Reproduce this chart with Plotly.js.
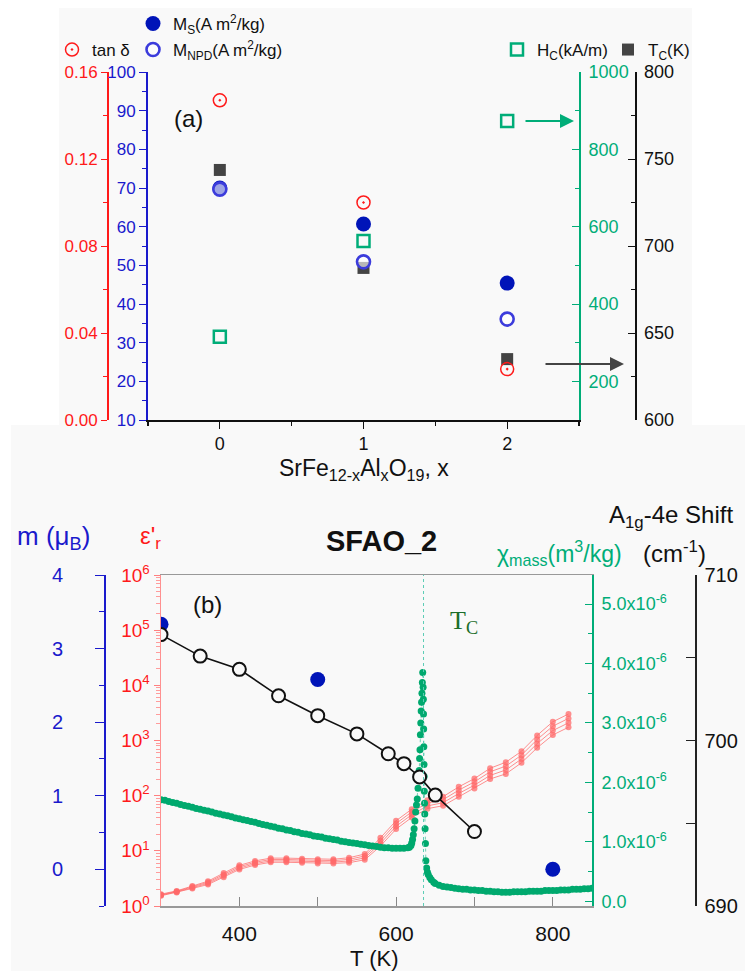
<!DOCTYPE html>
<html>
<head>
<meta charset="utf-8">
<script src="https://cdn.plot.ly/plotly-3.0.1.min.js"></script>
<style>
  html, body { margin: 0; padding: 0; background: #ffffff; }
  #chart { width: 745px; height: 971px; }
</style>
</head>
<body>
<div id="chart"></div>
<script>
// ---------- Panel (a): SrFe(12-x)AlxO19 properties vs Al content ----------
const alContent = [0, 1, 2];
const tanDelta  = [0.147, 0.100, 0.0234];
const msValues  = [70.0, 60.7, 45.4];      // A m^2/kg
const mNpd      = [69.7, 50.9, 36.1];      // A m^2/kg
const hcValues  = [315, 563, 873];         // kA/m
const tcValues  = [743.7, 687.4, 635.0];   // K

// ---------- Panel (b): SFAO_2 vs temperature ----------
// Raman A1g-4e mode shift (cm^-1)
const ramanT     = [300, 350, 400, 450, 500, 550, 590, 610, 630, 650, 700];
const ramanShift = [706.4, 705.1, 704.3, 702.7, 701.5, 700.4, 699.2, 698.6, 697.8, 696.7, 694.5];

// magnetic moment from neutron diffraction (mu_B)
const momentT = [300, 500, 800];
const moment  = [3.33, 2.58, 0.0];

// relative permittivity, four measuring frequencies
const epsT = [300, 320, 340, 360, 380, 400, 420, 440, 460, 480, 500, 520, 540, 560,
              580, 600, 620, 640, 660, 680, 700, 720, 740, 760, 780, 800, 820];
const eps1 = [1.64, 1.88, 2.30, 2.82, 3.96, 5.46, 6.57, 7.37, 7.37, 7.20, 7.04, 7.04, 7.50, 8.76,
              17.2, 35.1, 56.9, 82.2, 96.0, 144.5, 204, 314, 403, 638, 1237, 2188, 3020];
const eps2 = [1.60, 1.84, 2.23, 2.69, 3.74, 5.16, 6.20, 6.96, 6.96, 6.80, 6.65, 6.65, 7.00, 8.08,
              15.3, 31.3, 50.7, 73.3, 84.6, 125.9, 178, 271, 343, 543, 1041, 1820, 2512];
const eps3 = [1.57, 1.80, 2.15, 2.57, 3.53, 4.87, 5.85, 6.57, 6.57, 6.42, 6.27, 6.27, 6.53, 7.46,
              13.6, 27.9, 45.2, 65.3, 74.6, 109.6, 155, 233, 292, 462, 876, 1514, 2089];
const eps4 = [1.53, 1.76, 2.08, 2.45, 3.33, 4.60, 5.53, 6.20, 6.20, 6.06, 5.92, 5.92, 6.10, 6.88,
              12.2, 24.8, 40.3, 58.2, 65.7, 95.5, 135, 201, 248, 394, 737, 1259, 1738];

// mass susceptibility (m^3/kg)
const chiT = [300, 305, 310, 315, 320, 325, 330, 335, 340, 345, 350, 355, 360, 365, 370, 375,
              380, 385, 390, 395, 400, 405, 410, 415, 420, 425, 430, 435, 440, 445, 450, 455,
              460, 465, 470, 475, 480, 485, 490, 495, 500, 505, 510, 515, 520, 525, 530, 535,
              540, 545, 550, 555, 560, 565, 570, 575, 580, 585, 590, 595, 600, 605, 610, 615,
              617, 619, 620, 621, 622, 623, 624, 625, 626, 627, 628, 629, 629.5, 630, 630.5, 631,
              631.5, 632, 632.5, 633, 633.5, 634, 634.5, 634.8, 635, 635.2, 635.4, 635.6, 635.8, 636,
              636.3, 636.6, 637, 637.5, 638, 639, 640, 641, 643, 645, 648, 650, 655, 660, 665, 670,
              675, 680, 685, 690, 695, 700, 705, 710, 715, 720, 725, 730, 735, 740, 745, 750,
              755, 760, 765, 770, 775, 780, 785, 790, 795, 800, 805, 810, 815, 820, 825, 830,
              835, 840, 845, 850];
const chiE6 = [1.71, 1.70, 1.68, 1.66, 1.65, 1.63, 1.61, 1.60, 1.58, 1.56, 1.55, 1.53, 1.52, 1.50, 1.48, 1.47,
               1.45, 1.44, 1.42, 1.40, 1.39, 1.37, 1.36, 1.34, 1.33, 1.31, 1.29, 1.28, 1.26, 1.25, 1.23, 1.22,
               1.20, 1.19, 1.17, 1.16, 1.14, 1.13, 1.12, 1.10, 1.09, 1.08, 1.06, 1.05, 1.04, 1.03, 1.01, 1.00,
               0.99, 0.98, 0.97, 0.96, 0.95, 0.94, 0.93, 0.92, 0.91, 0.90, 0.90, 0.89, 0.89, 0.89, 0.89, 0.90,
               0.91, 0.94, 0.98, 1.04, 1.12, 1.22, 1.35, 1.50, 1.62, 1.72, 1.90, 2.05, 2.20, 2.40, 2.55, 2.80,
               3.00, 3.20, 3.35, 3.50, 3.68, 3.85, 3.60, 3.40, 3.15, 2.90, 2.60, 2.30, 2.10, 1.85,
               1.65, 1.47, 1.22, 0.97, 0.68, 0.56, 0.49, 0.45, 0.40, 0.36, 0.32, 0.30, 0.27, 0.25, 0.24, 0.23,
               0.22, 0.21, 0.20, 0.20, 0.19, 0.19, 0.18, 0.18, 0.17, 0.17, 0.16, 0.16, 0.15, 0.15, 0.15, 0.16,
               0.16, 0.16, 0.16, 0.17, 0.17, 0.17, 0.17, 0.18, 0.18, 0.18, 0.18, 0.19, 0.19, 0.19, 0.20, 0.20,
               0.20, 0.21, 0.21, 0.22];
const chiMass = chiE6.map(v => v * 1e-6);

const curieT = 635;

// tick labels
const epsTickVals = [1, 10, 100, 1000, 10000, 100000, 1000000];
const epsTickText = ['10<sup>0</sup>', '10<sup>1</sup>', '10<sup>2</sup>', '10<sup>3</sup>',
                     '10<sup>4</sup>', '10<sup>5</sup>', '10<sup>6</sup>'];
const chiTickVals = [0, 1e-6, 2e-6, 3e-6, 4e-6, 5e-6];
const chiTickText = ['0.0', '1.0x10<sup>-6</sup>', '2.0x10<sup>-6</sup>', '3.0x10<sup>-6</sup>',
                     '4.0x10<sup>-6</sup>', '5.0x10<sup>-6</sup>'];

// ---------- colours ----------
const RED = '#ff1a1a';
const BLUE = '#1a1acc';
const NAVY = '#0014b8';
const GREEN = '#00ad78';
const DARK = '#444444';
const EPS_RED = 'rgba(255,105,105,0.75)';
const FONT = 'Liberation Sans, Arial, sans-serif';

const W = 745, H = 971;
const px = v => v / W;
const py = v => 1 - v / H;

const traces = [
  // panel (a)
  { x: alContent, y: msValues, xaxis: 'x', yaxis: 'y', type: 'scatter', mode: 'markers',
    name: 'M<sub>S</sub>(A m<sup>2</sup>/kg)', legend: 'legend',
    marker: { symbol: 'circle', size: 15, color: NAVY } },
  { x: alContent, y: tcValues, xaxis: 'x', yaxis: 'y2', type: 'scatter', mode: 'markers',
    name: 'T<sub>C</sub>(K)', legend: 'legend5',
    marker: { symbol: 'square', size: 12, color: DARK } },
  { x: alContent, y: hcValues, xaxis: 'x', yaxis: 'y3', type: 'scatter', mode: 'markers',
    name: 'H<sub>C</sub>(kA/m)', legend: 'legend4',
    marker: { symbol: 'square-open', size: 12, color: GREEN, line: { width: 2.5, color: GREEN } } },
  { x: alContent, y: tanDelta, xaxis: 'x', yaxis: 'y4', type: 'scatter', mode: 'markers',
    name: 'tan δ', legend: 'legend2',
    marker: { symbol: 'circle-open-dot', size: 13, color: RED, line: { width: 1.5, color: RED } } },
  { x: alContent, y: mNpd, xaxis: 'x', yaxis: 'y9', type: 'scatter', mode: 'markers',
    name: 'M<sub>NPD</sub>(A m<sup>2</sup>/kg)', legend: 'legend3',
    marker: { symbol: 'circle', size: 13, color: 'rgba(255,255,255,0.62)', line: { width: 2.6, color: '#3c3cdc' } } },

  // panel (b)
  ...[eps1, eps2, eps3, eps4].map(e => ({
    x: epsT, y: e, xaxis: 'x2', yaxis: 'y5', type: 'scatter', mode: 'lines+markers', showlegend: false,
    line: { color: EPS_RED, width: 1 }, marker: { symbol: 'circle', size: 6, color: EPS_RED }
  })),
  { x: momentT, y: moment, xaxis: 'x2', yaxis: 'y6', type: 'scatter', mode: 'markers', showlegend: false,
    marker: { symbol: 'circle', size: 15, color: NAVY } },
  { x: chiT, y: chiMass, xaxis: 'x2', yaxis: 'y7', type: 'scatter', mode: 'lines+markers', showlegend: false,
    line: { color: 'rgba(0,173,120,0.55)', width: 1, dash: 'dot' },
    marker: { symbol: 'circle', size: 7, color: '#00a96e' } },
  { x: ramanT, y: ramanShift, xaxis: 'x2', yaxis: 'y8', type: 'scatter', mode: 'lines+markers', showlegend: false,
    line: { color: '#111111', width: 1.6 },
    marker: { symbol: 'circle', size: 13, color: '#f9f9f9', line: { width: 2, color: '#111111' } } }
];

const tickFontA = (c, s) => ({ family: FONT, size: s, color: c });

// centred text label in paper pixels
const label = (text, x, y, size, color, family) => ({
  text, xref: 'paper', yref: 'paper', x: px(x), y: py(y), xanchor: 'center', yanchor: 'middle',
  showarrow: false, font: { family: family || FONT, size, color }
});

const legendBox = (x, y) => ({
  x: px(x), y: py(y), xanchor: 'left', yanchor: 'middle', bgcolor: 'rgba(0,0,0,0)',
  font: { family: FONT, size: 17, color: '#111' }
});

const layout = {
  width: W, height: H,
  margin: { l: 0, r: 0, t: 0, b: 0 },
  paper_bgcolor: '#ffffff',
  plot_bgcolor: 'rgba(0,0,0,0)',
  font: { family: FONT, color: '#111111' },

  // ---- panel (a) axes ----
  xaxis: {
    domain: [px(148), px(579)], anchor: 'y', range: [-0.5, 2.5],
    tickvals: alContent, ticks: 'outside', ticklen: 7, tickwidth: 1.3, tickcolor: '#111',
    minor: { dtick: 0.5, ticks: 'outside', ticklen: 4, tickcolor: '#111' },
    showline: true, linecolor: '#111', linewidth: 1.5, showgrid: false, zeroline: false,
    tickfont: tickFontA('#111', 18)
  },
  xaxis3: {
    overlaying: 'x', anchor: 'y', side: 'top', range: [-0.5, 2.5],
    tickvals: alContent, ticks: 'inside', ticklen: 7, tickcolor: '#111',
    minor: { dtick: 0.5, ticks: 'inside', ticklen: 4, tickcolor: '#111' },
    showticklabels: false, showline: true, linecolor: '#111', linewidth: 1.5, showgrid: false, zeroline: false
  },
  yaxis: {
    domain: [py(420), py(72)], anchor: 'x', range: [10, 100], dtick: 10,
    ticks: 'outside', ticklen: 7, tickcolor: BLUE, minor: { dtick: 5, ticks: 'outside', ticklen: 4, tickcolor: BLUE },
    showline: true, linecolor: BLUE, linewidth: 2, showgrid: false, zeroline: false,
    tickfont: tickFontA(BLUE, 17)
  },
  yaxis2: {
    overlaying: 'y', anchor: 'free', position: px(635), side: 'right', range: [600, 800], dtick: 50,
    ticks: 'inside', ticklen: 7, tickcolor: '#111', minor: { dtick: 25, ticks: 'inside', ticklen: 4, tickcolor: '#111' },
    showline: true, linecolor: '#111', linewidth: 1.5, showgrid: false, zeroline: false,
    ticklabelstandoff: 4, tickfont: tickFontA('#111', 18)
  },
  yaxis3: {
    overlaying: 'y', anchor: 'x', side: 'right', range: [100, 1000], tickvals: [200, 400, 600, 800, 1000],
    ticks: 'inside', ticklen: 7, tickcolor: GREEN, minor: { dtick: 100, ticks: 'inside', ticklen: 4, tickcolor: GREEN },
    showline: true, linecolor: GREEN, linewidth: 2, showgrid: false, zeroline: false,
    ticklabelstandoff: 4, tickfont: tickFontA(GREEN, 18)
  },
  yaxis4: {
    overlaying: 'y', anchor: 'free', position: px(107), side: 'left', range: [0, 0.16],
    tickvals: [0, 0.04, 0.08, 0.12, 0.16], tickformat: '.2f',
    ticks: 'outside', ticklen: 6, tickcolor: RED, minor: { dtick: 0.02, ticks: 'outside', ticklen: 4, tickcolor: RED },
    showline: true, linecolor: RED, linewidth: 1.5, showgrid: false, zeroline: false,
    tickfont: tickFontA(RED, 17)
  },
  yaxis9: {
    overlaying: 'y', anchor: 'x', range: [10, 100], visible: false
  },

  // ---- panel (b) axes ----
  xaxis2: {
    domain: [px(161), px(592)], anchor: 'y5', range: [300, 850],
    tickvals: [400, 600, 800], ticks: 'inside', ticklen: 9, tickcolor: '#888',
    minor: { dtick: 100, ticks: 'inside', ticklen: 9, tickcolor: '#888' },
    showline: true, mirror: true, linecolor: '#999', linewidth: 1.5, showgrid: false, zeroline: false,
    ticklabelstandoff: 8, tickfont: tickFontA('#111', 21)
  },
  yaxis5: {
    domain: [py(906), py(575)], anchor: 'x2', type: 'log', range: [0, 6],
    tickvals: epsTickVals, ticktext: epsTickText,
    ticks: 'outside', ticklen: 6, tickcolor: '#ff8080',
    minor: { dtick: 'D1', ticks: 'outside', ticklen: 4, tickcolor: '#ff9c9c' },
    showline: true, linecolor: '#ff9090', linewidth: 1.5, showgrid: false, zeroline: false,
    tickfont: tickFontA(RED, 19)
  },
  yaxis6: {
    overlaying: 'y5', anchor: 'free', position: px(105), side: 'left', range: [-0.5, 4],
    tickvals: [0, 1, 2, 3, 4], ticks: 'outside', ticklen: 9, tickcolor: BLUE,
    minor: { dtick: 0.5, ticks: 'outside', ticklen: 5, tickcolor: BLUE },
    showline: true, linecolor: BLUE, linewidth: 2, showgrid: false, zeroline: false,
    ticklabelstandoff: 28, tickfont: tickFontA(BLUE, 20)
  },
  yaxis7: {
    overlaying: 'y5', anchor: 'x2', side: 'right', range: [-0.08e-6, 5.49e-6],
    tickvals: chiTickVals, ticktext: chiTickText,
    ticks: 'inside', ticklen: 7, tickcolor: GREEN,
    minor: { dtick: 0.5e-6, ticks: 'inside', ticklen: 4, tickcolor: GREEN },
    showline: true, linecolor: GREEN, linewidth: 2, showgrid: false, zeroline: false,
    ticklabelstandoff: 4, tickfont: tickFontA(GREEN, 18)
  },
  yaxis8: {
    overlaying: 'y5', anchor: 'free', position: px(695), side: 'right', range: [690, 710],
    tickvals: [690, 700, 710], ticks: 'inside', ticklen: 9, tickcolor: '#222',
    minor: { dtick: 5, ticks: 'inside', ticklen: 9, tickcolor: '#222' },
    showline: true, linecolor: '#222', linewidth: 1.5, showgrid: false, zeroline: false,
    ticklabelstandoff: 4, tickfont: tickFontA('#111', 20)
  },

  // ---- legends of panel (a) ----
  showlegend: true,
  legend:  legendBox(133, 24),
  legend2: legendBox(52, 50),
  legend3: legendBox(133, 50),
  legend4: legendBox(497, 50),
  legend5: legendBox(608, 50),

  shapes: [
    // light panel backgrounds
    { type: 'rect', xref: 'paper', yref: 'paper', layer: 'below', x0: px(59), x1: px(692), y0: py(425), y1: py(8),
      fillcolor: '#f9f9f9', line: { width: 0 } },
    { type: 'rect', xref: 'paper', yref: 'paper', layer: 'below', x0: px(11), x1: 1, y0: 0, y1: py(425),
      fillcolor: '#f9f9f9', line: { width: 0 } },
    // Curie temperature marker
    { type: 'line', xref: 'x2', yref: 'y5 domain', x0: curieT, x1: curieT, y0: 0, y1: 1,
      line: { color: '#5ccdb5', width: 1, dash: 'dot' } }
  ],

  annotations: [
    label('(a)', 188, 118, 24, '#111'),
    label('SrFe<sub>12-x</sub>Al<sub>x</sub>O<sub>19</sub>, x', 364, 470, 23, '#111'),
    // arrows pointing to the Hc and Tc axes
    { text: '', xref: 'paper', yref: 'paper', x: px(574), y: py(121), ax: -50, ay: 0,
      showarrow: true, arrowhead: 2, arrowsize: 1.4, arrowwidth: 2, arrowcolor: GREEN },
    { text: '', xref: 'paper', yref: 'paper', x: px(624), y: py(364), ax: -80, ay: 0,
      showarrow: true, arrowhead: 2, arrowsize: 1.4, arrowwidth: 2, arrowcolor: '#444' },

    label('(b)', 208, 604, 24, '#111'),
    label('<b>SFAO_2</b>', 381, 541, 29, '#111'),
    label('m (μ<sub>B</sub>)', 53, 537, 26, BLUE),
    label("ε'<sub>r</sub>", 150, 537, 24, RED),
    label('χ<sub>mass</sub>(m<sup>3</sup>/kg)', 559, 553, 23, GREEN),
    label('(cm<sup>-1</sup>)', 674, 552, 24, '#111'),
    label('A<sub>1g</sub>-4e Shift', 671, 516, 24, '#111'),
    label('T<sub>C</sub>', 464, 622, 26, '#1b6e2a', 'Liberation Serif, Times New Roman, serif'),
    label('T (K)', 374, 958, 22, '#111')
  ]
};

Plotly.newPlot('chart', traces, layout, { staticPlot: true, displayModeBar: false });
</script>
</body>
</html>
